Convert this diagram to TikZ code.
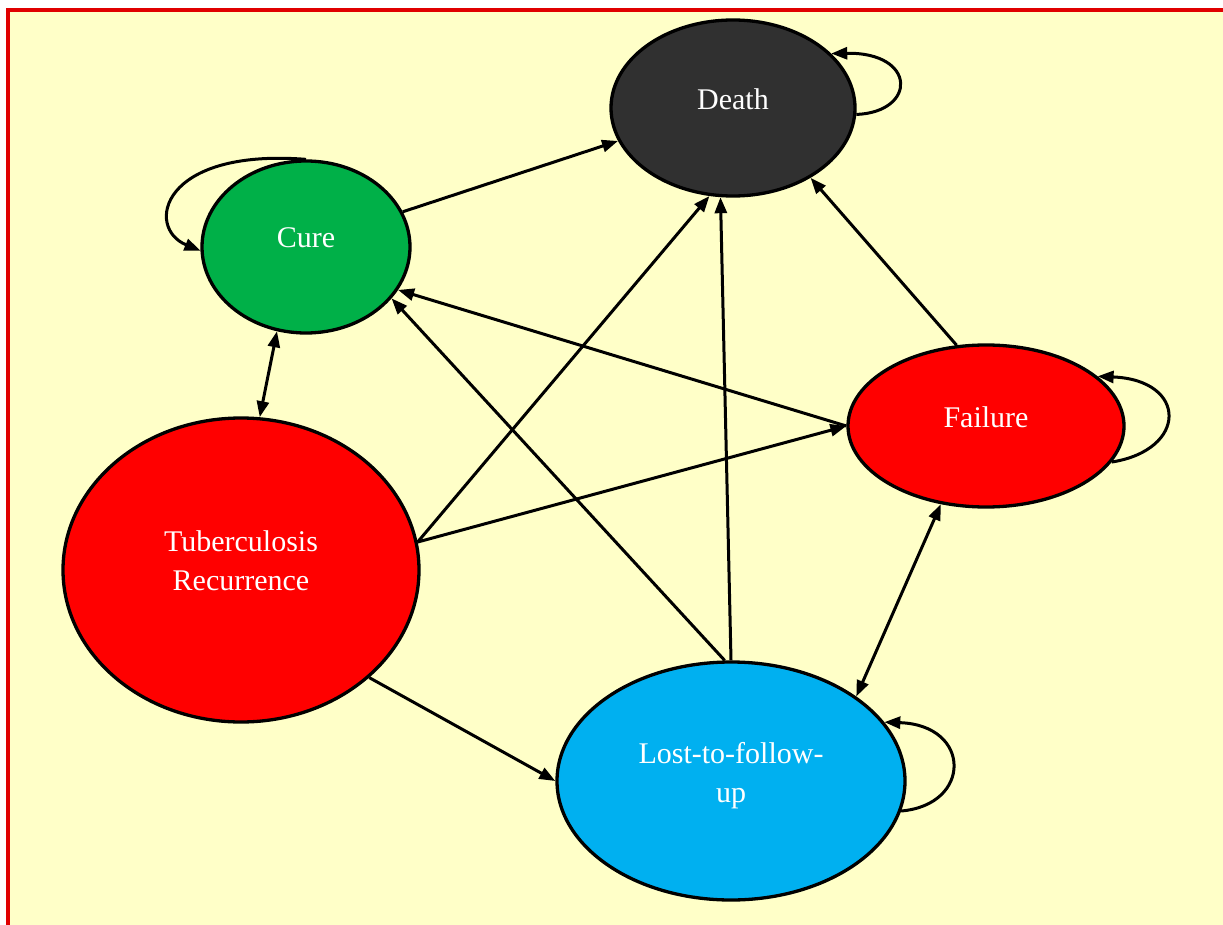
\documentclass[tikz,border=0pt]{standalone}
\usepackage{fontspec}
\setmainfont{Liberation Serif}
\usetikzlibrary{arrows.meta,shapes.geometric}
\definecolor{bgyellow}{RGB}{255,255,200}
\definecolor{borderred}{RGB}{224,0,0}
\definecolor{deathgray}{RGB}{48,48,48}
\definecolor{curegreen}{RGB}{0,176,72}
\definecolor{ltfublue}{RGB}{0,176,240}
\begin{document}
\begin{tikzpicture}[x=1pt,y=-1pt,
  state/.style={ellipse, draw=black, line width=3.3pt, inner sep=0pt, text=white,
    font=\fontsize{30}{39}\selectfont, align=center, text depth=18pt},
  conn/.style={line width=3pt, -{Triangle[length=16pt,width=12pt]}},
  both/.style={line width=3pt, {Triangle[length=16pt,width=12pt]}-{Triangle[length=16pt,width=12pt]}}]
\useasboundingbox (0,0) rectangle (1223,925);
\clip (0,0) rectangle (1223,925);
\fill[white] (0,0) rectangle (1223,925);
\draw[draw=borderred, fill=bgyellow, line width=4pt] (8,10) rectangle (1250,950);

\node[state, fill=deathgray, minimum width=244pt, minimum height=176pt] (death) at (733,108) {Death};
\node[state, fill=curegreen, minimum width=208pt, minimum height=172pt] (cure) at (306,247) {Cure};
\node[state, fill=red, minimum width=276pt, minimum height=162pt] (fail) at (986,426) {Failure};
\node[state, fill=red, minimum width=356pt, minimum height=304pt] (tb) at (241,570) {Tuberculosis\\Recurrence};
\node[state, fill=ltfublue, minimum width=348pt, minimum height=238pt] (ltfu) at (731,781) {Lost-to-follow-\\up};

% straight connectors
\draw[conn] (cure.20) -- (death.196);
\draw[conn] (tb.9) -- (death.255);
\draw[conn] (ltfu.north) -- (death.262);
\draw[conn] (fail.110) -- (death.-42);
\draw[conn] (fail.west) -- (cure.-25);
\draw[conn] (ltfu.93) -- (cure.-31);
\draw[conn] (tb.9) -- (fail.west);
\draw[conn] (tb.-40) -- (ltfu.west);
\draw[both] (cure.251) -- (tb.83);
\draw[both] (fail.240) -- (ltfu.34);

% self loops
\draw[conn] (death.-3) .. controls (917,112) and (917,52) .. (death.29);
\draw[conn] (cure.north) .. controls (160,148) and (145,228) .. (cure.182);
\draw[conn] (fail.-16) .. controls (1188,450) and (1188,380) .. (fail.24);
\draw[conn] (ltfu.-10) .. controls (972,805) and (972,725) .. (ltfu.21);
\end{tikzpicture}
\end{document}
